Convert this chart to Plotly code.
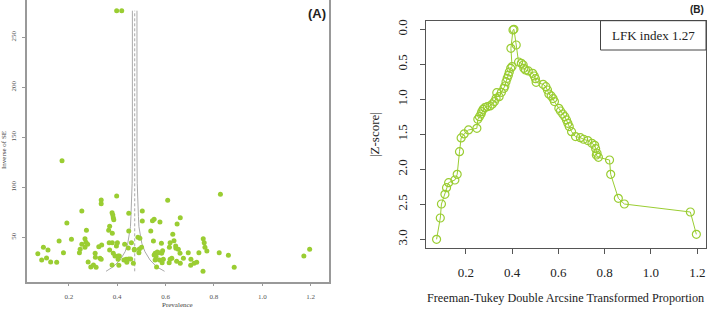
import plotly.graph_objects as go

# ---------------- Panel A: funnel plot data ----------------
prev_x = [0.172, 0.254, 0.192, 0.273, 0.211, 0.160, 0.095, 0.114, 0.072, 0.088, 0.108, 0.125, 0.150, 0.178,
          0.247, 0.244, 0.254, 0.267, 0.271, 0.278, 0.267, 0.280, 0.291, 0.302, 0.309, 0.310, 0.313, 0.324,
          0.329, 0.334, 0.334, 0.334, 0.336, 0.365, 0.369, 0.367, 0.369, 0.379, 0.382, 0.384, 0.386, 0.380,
          0.380, 0.384, 0.391, 0.379, 0.398, 0.397, 0.401, 0.404, 0.404, 0.407, 0.409, 0.431, 0.428, 0.437,
          0.440, 0.446, 0.448, 0.448, 0.448, 0.456, 0.459, 0.467, 0.471, 0.471, 0.486, 0.494, 0.492, 0.501,
          0.490, 0.504, 0.504, 0.539, 0.546, 0.553, 0.550, 0.553, 0.557, 0.561, 0.563, 0.566, 0.572, 0.557,
          0.577, 0.575, 0.583, 0.584, 0.586, 0.591, 0.588, 0.609, 0.616, 0.619, 0.619, 0.615, 0.626, 0.630,
          0.635, 0.642, 0.648, 0.643, 0.646, 0.653, 0.660, 0.661, 0.661, 0.674, 0.694, 0.705, 0.704, 0.718,
          0.729, 0.738, 0.756, 0.760, 0.763, 0.771, 0.755, 0.822, 0.827, 0.860, 0.884, 1.172, 1.196,
          0.398, 0.419]
inv_se = [126.6, 76.3, 64.3, 57.0, 48.0, 46.3, 40.0, 37.3, 33.6, 27.3, 29.3, 25.3, 25.0, 34.6,
          38.0, 34.6, 43.0, 48.6, 45.0, 43.0, 40.0, 25.3, 20.3, 22.3, 34.0, 30.0, 20.0, 40.6,
          29.0, 28.0, 87.3, 83.6, 42.3, 57.0, 61.0, 44.6, 37.3, 74.6, 72.3, 69.6, 67.6, 54.0,
          44.6, 34.0, 31.3, 22.3, 91.3, 41.3, 44.6, 31.3, 28.0, 22.0, 31.3, 43.0, 27.3, 28.0,
          25.0, 39.3, 74.0, 56.3, 28.3, 28.3, 44.6, 24.0, 38.0, 37.3, 50.0, 49.0, 38.3, 40.0,
          34.6, 76.3, 66.3, 56.3, 66.6, 68.0, 46.3, 32.3, 34.0, 30.6, 20.3, 35.3, 34.6, 27.3,
          65.3, 27.3, 44.0, 34.0, 24.6, 28.0, 36.6, 87.0, 40.0, 44.6, 28.0, 24.6, 29.0, 53.0,
          46.6, 41.3, 63.3, 39.0, 26.0, 38.0, 34.0, 24.0, 69.6, 29.0, 34.6, 28.0, 22.0, 24.0,
          25.0, 34.6, 48.6, 44.6, 40.0, 36.3, 16.0, 34.6, 93.0, 32.0, 20.0, 31.3, 38.0,
          276.6, 276.6]

pooled_prev = 0.4726
funnel_y = [16.0, 20.6, 27.3, 35.6, 44.0, 52.3, 60.6, 70.6, 87.3, 104.0, 137.3, 276.6]
funnel_left = [0.354, 0.384, 0.412, 0.433, 0.444, 0.451, 0.455, 0.457, 0.460, 0.462, 0.463, 0.463]
funnel_right = [0.596, 0.563, 0.536, 0.515, 0.502, 0.495, 0.490, 0.488, 0.485, 0.483, 0.482, 0.482]

a_xticks = [0.2, 0.4, 0.6, 0.8, 1.0, 1.2]
a_xtick_text = ["0.2", "0.4", "0.6", "0.8", "1.0", "1.2"]
a_yticks = [50, 100, 150, 200, 250]

# ---------------- Panel B: Doi plot data ----------------
ft_prop = [0.074, 0.090, 0.095, 0.110, 0.117, 0.126, 0.153, 0.163, 0.173, 0.180, 0.193, 0.212, 0.248,
           0.252, 0.259, 0.266, 0.269, 0.275, 0.282, 0.293, 0.305, 0.315, 0.324, 0.331, 0.334, 0.344,
           0.354, 0.365, 0.369, 0.374, 0.379, 0.384, 0.388, 0.394, 0.400, 0.395, 0.404, 0.408, 0.418,
           0.428, 0.440, 0.448, 0.451, 0.458, 0.470, 0.489, 0.496, 0.501, 0.504, 0.534, 0.546, 0.553,
           0.559, 0.569, 0.577, 0.583, 0.602, 0.609, 0.619, 0.628, 0.635, 0.641, 0.647, 0.657, 0.674,
           0.695, 0.709, 0.727, 0.745, 0.757, 0.761, 0.767, 0.764, 0.773, 0.821, 0.826, 0.859, 0.885,
           1.170, 1.196]
z_abs = [3.000, 2.696, 2.496, 2.358, 2.263, 2.191, 2.153, 2.072, 1.748, 1.552, 1.495, 1.438, 1.414,
         1.286, 1.248, 1.210, 1.176, 1.143, 1.119, 1.105, 1.095, 1.067, 1.033, 0.986, 0.905, 0.962,
         0.900, 0.843, 0.810, 0.748, 0.700, 0.657, 0.610, 0.557, 0.533, 0.271, 0.010, 0.000, 0.224,
         0.467, 0.486, 0.510, 0.557, 0.581, 0.595, 0.629, 0.667, 0.705, 0.757, 0.786, 0.819, 0.867,
         0.924, 0.952, 0.990, 1.033, 1.129, 1.167, 1.210, 1.248, 1.295, 1.343, 1.390, 1.462, 1.533,
         1.548, 1.571, 1.590, 1.629, 1.657, 1.705, 1.771, 1.796, 1.829, 1.867, 2.072, 2.415, 2.496,
         2.610, 2.929]

b_xticks = [0.2, 0.4, 0.6, 0.8, 1.0, 1.2]
b_xtick_text = ["0.2", "0.4", "0.6", "0.8", "1.0", "1.2"]
b_yticks = [0.0, 0.5, 1.0, 1.5, 2.0, 2.5, 3.0]
b_ytick_text = ["0.0", "0.5", "1.0", "1.5", "2.0", "2.5", "3.0"]
lfk_label = "LFK index 1.27"

GREEN = "#9ACD32"
SERIF = "Liberation Serif, Times New Roman, serif"

fig = go.Figure()

# Funnel lines (panel A)
fig.add_trace(go.Scatter(x=funnel_left, y=funnel_y, mode="lines",
                         line=dict(color="#aaaaaa", width=1), xaxis="x", yaxis="y", hoverinfo="skip"))
fig.add_trace(go.Scatter(x=funnel_right, y=funnel_y, mode="lines",
                         line=dict(color="#aaaaaa", width=1), xaxis="x", yaxis="y", hoverinfo="skip"))
fig.add_trace(go.Scatter(x=[pooled_prev, pooled_prev], y=[funnel_y[0], funnel_y[-1]], mode="lines",
                         line=dict(color="#aaaaaa", width=1, dash="3px,2px"), xaxis="x", yaxis="y",
                         hoverinfo="skip"))
# Study points (panel A)
fig.add_trace(go.Scatter(x=prev_x, y=inv_se, mode="markers",
                         marker=dict(color=GREEN, size=5, line=dict(width=0)),
                         xaxis="x", yaxis="y"))

# Doi plot (panel B)
fig.add_trace(go.Scatter(x=ft_prop, y=z_abs, mode="lines+markers",
                         line=dict(color=GREEN, width=1),
                         marker=dict(symbol="circle-open", color=GREEN, size=8, line=dict(width=1.2)),
                         xaxis="x2", yaxis="y2"))

H = 309.0
W = 707.0
fig.update_layout(
    width=707, height=309,
    margin=dict(l=0, r=0, t=0, b=0, autoexpand=False),
    paper_bgcolor="white", plot_bgcolor="white",
    showlegend=False,
    xaxis=dict(domain=[26.7 / W, 329 / W], range=[0.026, 1.276], anchor="y", automargin=False,
               tickvals=a_xticks, ticktext=a_xtick_text, ticks="outside", ticklen=3,
               tickcolor="#999", tickfont=dict(family=SERIF, size=7, color="#555"),
               showline=True, linecolor="#999", linewidth=1.5, mirror=True,
               showgrid=False, zeroline=False, ticklabelstandoff=4),
    yaxis=dict(domain=[1 - 281.7 / H, 1.0], range=[5.6, 287.3], anchor="x", automargin=False,
               tickvals=a_yticks, ticks="outside", ticklen=3, tickangle=-90,
               tickcolor="#999", tickfont=dict(family=SERIF, size=7, color="#555"),
               showline=True, linecolor="#999", linewidth=1.5, mirror=True,
               showgrid=False, zeroline=False, ticklabelstandoff=3),
    xaxis2=dict(domain=[425.7 / W, 706 / W], range=[0.027, 1.2376], anchor="y2", automargin=False,
                tickvals=b_xticks, ticktext=b_xtick_text, ticks="outside", ticklen=5,
                tickcolor="#555", tickfont=dict(family=SERIF, size=13, color="#222"),
                showline=True, linecolor="#555", linewidth=1, mirror=True,
                showgrid=False, zeroline=False, ticklabelstandoff=8),
    yaxis2=dict(domain=[1 - 247.7 / H, 1 - 20.7 / H], range=[3.12, -0.123], anchor="x2", automargin=False,
                tickvals=b_yticks, ticktext=b_ytick_text, ticks="outside", ticklen=5, tickangle=-90,
                tickcolor="#555", tickfont=dict(family=SERIF, size=13, color="#222"),
                showline=True, linecolor="#555", linewidth=1, mirror=True,
                showgrid=False, zeroline=False, ticklabelstandoff=8),
)

ann = []
# Panel A labels
ann.append(dict(text="<b>(A)</b>", x=316.7 / W, y=1 - 13 / H, xanchor="center", yanchor="middle",
                xref="paper", yref="paper", showarrow=False,
                font=dict(family="Arial, Liberation Sans, sans-serif", size=13, color="#222")))
ann.append(dict(text="Prevalence", x=177.5 / W, y=1 - 305 / H, xanchor="center", yanchor="middle",
                xref="paper", yref="paper",
                showarrow=False, font=dict(family=SERIF, size=7, color="#444")))
ann.append(dict(text="Inverse of SE", x=4 / W, y=1 - 150 / H, xanchor="center", yanchor="middle",
                xref="paper", yref="paper",
                textangle=-90, showarrow=False, font=dict(family=SERIF, size=7, color="#444")))
# Panel B labels
ann.append(dict(text="<b>(B)</b>", x=696.5 / W, y=1 - 10 / H, xanchor="center", yanchor="middle",
                xref="paper", yref="paper", showarrow=False,
                font=dict(family="Arial, Liberation Sans, sans-serif", size=10, color="#222")))
ann.append(dict(text="Freeman-Tukey Double Arcsine Transformed Proportion", x=565.5 / W, y=1 - 298 / H,
                xanchor="center", yanchor="middle",
                xref="paper", yref="paper", showarrow=False,
                font=dict(family=SERIF, size=12.2, color="#222")))
ann.append(dict(text="|Z-score|", x=374 / W, y=1 - 134 / H, xanchor="center", yanchor="middle",
                xref="paper", yref="paper",
                textangle=-90, showarrow=False, font=dict(family=SERIF, size=13, color="#222")))
ann.append(dict(text=lfk_label, x=697 / W, y=1 - 35.5 / H, xref="paper", yref="paper",
                xanchor="right", yanchor="middle", showarrow=False,
                font=dict(family=SERIF, size=13, color="#222")))
fig.update_layout(annotations=ann)

fig.add_shape(type="rect", xref="paper", yref="paper",
              x0=600.5 / W, x1=706 / W, y0=1 - 50 / H, y1=1 - 20.7 / H,
              line=dict(color="#444", width=1), fillcolor="rgba(0,0,0,0)")

fig.write_html("out.html", config={"displayModeBar": False},
               post_script="document.body.style.margin='0';document.body.style.padding='0';")
